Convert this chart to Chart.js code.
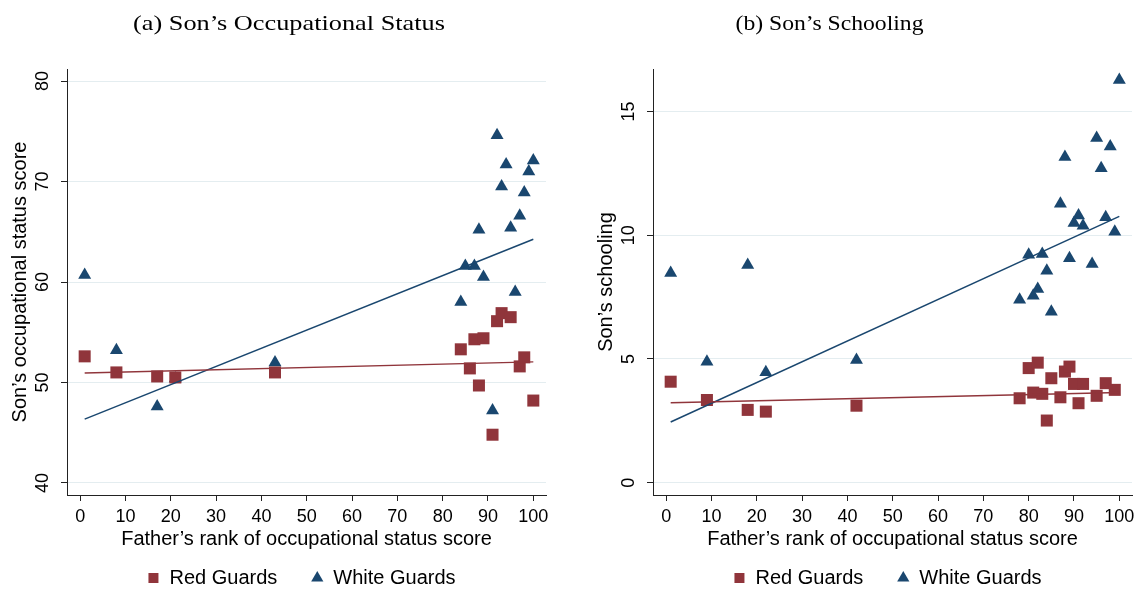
<!DOCTYPE html>
<html>
<head>
<meta charset="utf-8">
<script src="https://cdn.jsdelivr.net/npm/chart.js@4/dist/chart.umd.min.js"></script>
<style>
  html, body { margin: 0; padding: 0; background: #fff; overflow: hidden; width: 1137px; height: 590px; }
  canvas { position: absolute; top: 0; }
  #panelA { left: 0; }
  #panelB { left: 586px; }
</style>
</head>
<body>
<canvas id="panelA" width="603" height="590"></canvas>
<canvas id="panelB" width="603" height="590"></canvas>
<script>
// Tick labels
const fatherRankTicks = [0, 10, 20, 30, 40, 50, 60, 70, 80, 90, 100];
const occupationTicks = [40, 50, 60, 70, 80];
const schoolingTicks = [0, 5, 10, 15];

// Panel (a): son's occupational status score by father's rank
const redRankA = [1, 8, 17, 21, 43, 84, 86, 87, 88, 89, 91, 92, 93, 95, 97, 98, 100];
const redOccA  = [52.6, 51.0, 50.6, 50.5, 51.0, 53.3, 51.4, 54.3, 49.7, 54.4, 44.8, 56.1, 56.9, 56.5, 51.6, 52.5, 48.2];
const whiteRankA = [1, 8, 17, 21, 43, 84, 85, 87, 88, 89, 91, 92, 93, 94, 95, 96, 97, 98, 99, 100];
const whiteOccA  = [60.7, 53.2, 47.6, 50.4, 52.0, 58.0, 61.6, 61.6, 65.2, 60.5, 47.2, 74.6, 69.5, 71.7, 65.4, 59.0, 66.6, 68.9, 71.0, 72.1];

// Panel (b): son's schooling by father's rank
const redRankB = [1, 9, 18, 22, 42, 78, 80, 81, 82, 83, 84, 85, 87, 88, 89, 90, 91, 92, 95, 97, 99];
const redSchoolB = [4.08, 3.34, 2.94, 2.87, 3.11, 3.41, 4.63, 3.64, 4.85, 3.59, 2.51, 4.22, 3.45, 4.49, 4.69, 3.99, 3.21, 3.99, 3.51, 4.02, 3.75];
const whiteRankB = [1, 9, 18, 22, 42, 78, 80, 81, 82, 83, 84, 85, 87, 88, 89, 90, 91, 92, 94, 95, 96, 97, 98, 99, 100];
const whiteSchoolB = [8.47, 4.89, 8.80, 4.46, 4.96, 7.39, 9.21, 7.55, 7.83, 9.24, 8.56, 6.91, 11.27, 13.16, 9.07, 10.49, 10.80, 10.38, 8.84, 13.93, 12.71, 10.73, 13.59, 10.14, 16.28];

// Linear fit lines (end points over the observed rank range)
const fitRank = [1, 100];
const redFitOccA = [50.95, 52.05];
const whiteFitOccA = [46.35, 64.25];
const redFitSchoolB = [3.23, 3.64];
const whiteFitSchoolB = [2.45, 10.76];

const RED = '#90353b';
const NAVY = '#1a476f';
const SANS = "'Liberation Sans', Arial, sans-serif";
const INK = '#000';
const AXIS = '#222';
const GRID = '#e4edf0';

const pairs = (xs, ys) => xs.map((x, i) => ({ x: x, y: ys[i] }));

// Serif panel caption stretched to a given width
const captionPlugin = {
  id: 'caption',
  afterDraw(chart, args, opts) {
    const ctx = chart.ctx;
    ctx.save();
    ctx.font = opts.size + "px 'Liberation Serif', 'Times New Roman', serif";
    ctx.fillStyle = INK;
    ctx.textAlign = 'center';
    ctx.textBaseline = 'alphabetic';
    const w = ctx.measureText(opts.text).width;
    ctx.translate(opts.x, opts.y);
    ctx.scale(opts.width / w, 1);
    ctx.fillText(opts.text, 0, 0);
    ctx.restore();
  }
};

// Moves the legend box sideways so it centres under the whole panel
const legendShiftPlugin = {
  id: 'legendShift',
  afterLayout(chart, args, opts) {
    if (chart.legend) {
      chart.legend.left += opts.dx;
      chart.legend.right += opts.dx;
    }
  }
};

function buildPanel(canvasId, cfg) {
  const datasets = [
    { label: 'Red Guards', type: 'scatter', data: pairs(cfg.redX, cfg.redY),
      pointStyle: 'rect', pointRadius: 8.5, pointHoverRadius: 8.5, borderWidth: 0,
      backgroundColor: RED, borderColor: RED, order: 2 },
    { label: 'White Guards', type: 'scatter', data: pairs(cfg.whiteX, cfg.whiteY),
      pointStyle: 'triangle', pointRadius: 7.5, pointHoverRadius: 7.5, borderWidth: 0,
      backgroundColor: NAVY, borderColor: NAVY, order: 3 },
    { label: 'Red fit', type: 'line', data: pairs(fitRank, cfg.redFit),
      borderColor: RED, borderWidth: 1.5, pointRadius: 0, fill: false, order: 0 },
    { label: 'White fit', type: 'line', data: pairs(fitRank, cfg.whiteFit),
      borderColor: NAVY, borderWidth: 1.5, pointRadius: 0, fill: false, order: 1 }
  ];

  return new Chart(document.getElementById(canvasId), {
    type: 'scatter',
    data: { datasets: datasets },
    plugins: [captionPlugin, legendShiftPlugin],
    options: {
      responsive: false,
      maintainAspectRatio: false,
      animation: false,
      events: [],
      layout: { padding: { top: 69, right: 57, bottom: -8, left: 0 } },
      scales: {
        x: {
          type: 'linear',
          min: -2.9, max: 102.8,
          afterBuildTicks: s => { s.ticks = fatherRankTicks.map(v => ({ value: v })); },
          afterFit: s => { s.height = 39; },
          grid: { drawOnChartArea: false, tickLength: 6, tickColor: AXIS, lineWidth: 1 },
          border: { display: true, color: AXIS, width: 1 },
          ticks: { font: { family: SANS, size: 18 }, color: INK, padding: 5, maxRotation: 0, autoSkip: false },
          title: { display: true, text: 'Father’s rank of occupational status score',
                   font: { family: SANS, size: 20 }, color: INK, padding: { top: 0, bottom: -17 } }
        },
        y: {
          type: 'linear',
          min: cfg.yMin, max: cfg.yMax,
          afterBuildTicks: s => { s.ticks = cfg.yTicks.map(v => ({ value: v })); },
          afterFit: s => { s.width = 67; },
          grid: { color: GRID, lineWidth: 1, tickLength: 6, tickColor: AXIS },
          border: { display: true, color: AXIS, width: 1 },
          ticks: { font: { family: SANS, size: 18 }, color: INK, minRotation: 90, maxRotation: 90,
                   crossAlign: 'center', padding: 8, autoSkip: false },
          title: { display: true, text: cfg.yTitle, font: { family: SANS, size: 20 }, color: INK,
                   padding: { top: 8, bottom: 0 } }
        }
      },
      plugins: {
        legend: {
          position: 'bottom',
          align: 'center',
          labels: {
            usePointStyle: true, boxHeight: 10, boxWidth: 12, padding: 34,
            font: { family: SANS, size: 20 }, color: INK,
            filter: item => item.datasetIndex < 2
          }
        },
        legendShift: { dx: 28.5 },
        tooltip: { enabled: false },
        caption: cfg.caption
      }
    }
  });
}

buildPanel('panelA', {
  redX: redRankA, redY: redOccA, whiteX: whiteRankA, whiteY: whiteOccA,
  redFit: redFitOccA, whiteFit: whiteFitOccA,
  yMin: 38.8, yMax: 81.2, yTicks: occupationTicks,
  yTitle: 'Son’s occupational status score',
  caption: { text: '(a) Son’s Occupational Status', x: 289, y: 29.5, size: 21, width: 312 }
});

buildPanel('panelB', {
  redX: redRankB, redY: redSchoolB, whiteX: whiteRankB, whiteY: whiteSchoolB,
  redFit: redFitSchoolB, whiteFit: whiteFitSchoolB,
  yMin: -0.5, yMax: 16.72, yTicks: schoolingTicks,
  yTitle: 'Son’s schooling',
  caption: { text: '(b) Son’s Schooling', x: 243.5, y: 29.5, size: 21, width: 188 }
});
</script>
</body>
</html>
